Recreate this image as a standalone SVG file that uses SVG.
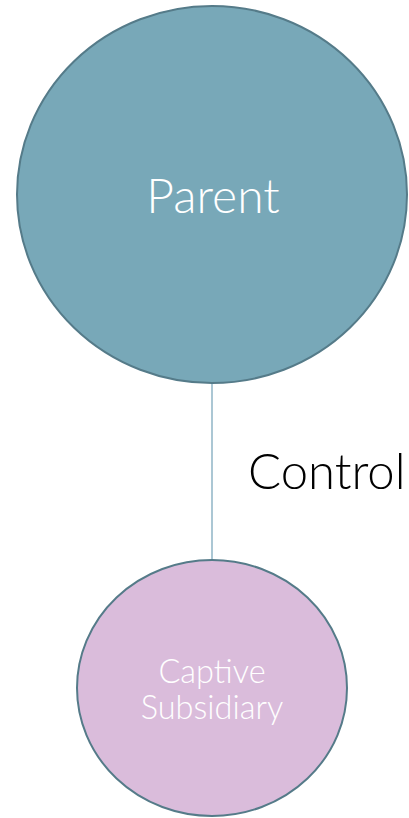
<svg xmlns="http://www.w3.org/2000/svg" width="409" height="818" viewBox="0 0 409 818">
<style>
.node{stroke:#557b89;stroke-width:2}
.lbl{font-family:Lato,"Open Sans","Liberation Sans",sans-serif;font-weight:300;text-anchor:middle;fill:#ffffff}
.conn{stroke:#8fb5c6;stroke-width:1.5;fill:none}
</style>
<rect width="409" height="818" fill="#ffffff"/>
<g id="connectors">
<line class="conn" x1="212" y1="383" x2="212" y2="560"/>
<text x="248" y="489" font-family="Lato,'Open Sans','Liberation Sans',sans-serif" font-weight="300" font-size="49" fill="#000000">Control</text>
</g>
<g id="parent">
<ellipse class="node" cx="212" cy="194.5" rx="195" ry="188.5" fill="#78a8b8"/>
<text class="lbl" x="213" y="213" font-size="48">Parent</text>
</g>
<g id="captive">
<ellipse class="node" cx="212" cy="688" rx="135" ry="128" fill="#dabcdb"/>
<text class="lbl" x="212" y="683" font-size="32.5">Captive</text>
<text class="lbl" x="212" y="719" font-size="32.5">Subsidiary</text>
</g>
</svg>
